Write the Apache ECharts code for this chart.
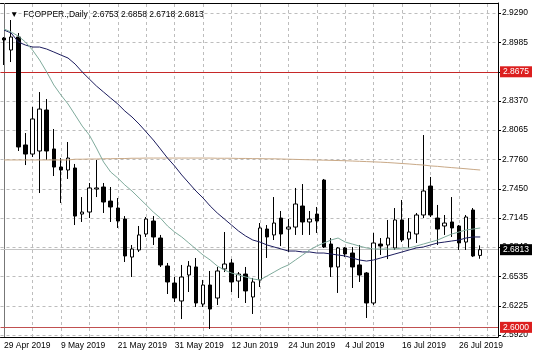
<!DOCTYPE html>
<html><head><meta charset="utf-8">
<script src="https://cdn.jsdelivr.net/npm/echarts@6/dist/echarts.min.js"></script>
<style>html,body{margin:0;padding:0;background:#fff}#c{width:536px;height:358px}</style>
</head><body><div id="c"></div>
<script>
const symbolName = 'FCOPPER.,Daily';
const dates = ['29 Apr 2019','30 Apr 2019','1 May 2019','2 May 2019','3 May 2019','6 May 2019','7 May 2019','8 May 2019','9 May 2019','10 May 2019',
'13 May 2019','14 May 2019','15 May 2019','16 May 2019','17 May 2019','20 May 2019','21 May 2019','22 May 2019','23 May 2019','24 May 2019',
'27 May 2019','28 May 2019','29 May 2019','30 May 2019','31 May 2019','3 Jun 2019','4 Jun 2019','5 Jun 2019','6 Jun 2019','7 Jun 2019',
'10 Jun 2019','11 Jun 2019','12 Jun 2019','13 Jun 2019','14 Jun 2019','17 Jun 2019','18 Jun 2019','19 Jun 2019','20 Jun 2019','21 Jun 2019',
'24 Jun 2019','25 Jun 2019','26 Jun 2019','27 Jun 2019','28 Jun 2019','1 Jul 2019','2 Jul 2019','3 Jul 2019','4 Jul 2019','5 Jul 2019',
'8 Jul 2019','9 Jul 2019','10 Jul 2019','11 Jul 2019','12 Jul 2019','15 Jul 2019','16 Jul 2019','17 Jul 2019','18 Jul 2019','19 Jul 2019',
'22 Jul 2019','23 Jul 2019','24 Jul 2019','25 Jul 2019','26 Jul 2019','29 Jul 2019','30 Jul 2019','31 Jul 2019'];
const padDates = ['1 Aug 2019','2 Aug 2019'];
// [open, close, low, high]
const candles = [
[2.9028,2.9008,2.8746,2.9039],[2.8903,2.9039,2.8777,2.9217],[2.9039,2.7888,2.7846,2.9081],[2.7909,2.7814,2.7699,2.8034],
[2.7814,2.8181,2.7783,2.8306],[2.7846,2.8285,2.7406,2.8463],[2.8275,2.7846,2.7752,2.8390],[2.7867,2.7678,2.7584,2.8076],
[2.7678,2.7647,2.7302,2.7772],[2.7647,2.7772,2.7553,2.7940],[2.7668,2.7165,2.7071,2.7710],[2.7186,2.7207,2.7103,2.7364],
[2.7207,2.7459,2.7144,2.7511],[2.7448,2.7459,2.7364,2.7752],[2.7469,2.7312,2.7197,2.7511],[2.7322,2.7260,2.7103,2.7469],
[2.7249,2.7113,2.7040,2.7354],[2.7134,2.6747,2.6684,2.7165],[2.6736,2.6820,2.6527,2.6862],[2.6810,2.6967,2.6789,2.7061],
[2.6977,2.7134,2.6946,2.7155],[2.7113,2.6946,2.6862,2.7165],[2.6935,2.6653,2.6632,2.6967],[2.6642,2.6475,2.6349,2.6674],
[2.6464,2.6307,2.6265,2.6527],[2.6276,2.6527,2.6087,2.6653],[2.6548,2.6642,2.6370,2.6694],[2.6632,2.6255,2.6213,2.6726],
[2.6244,2.6443,2.6213,2.6496],[2.6443,2.6192,2.5983,2.6590],[2.6307,2.6590,2.6234,2.6632],[2.6611,2.6663,2.6579,2.6998],
[2.6674,2.6475,2.6370,2.6715],[2.6485,2.6558,2.6307,2.6579],[2.6558,2.6381,2.6255,2.6632],[2.6318,2.6475,2.6140,2.6517],
[2.6496,2.7040,2.6422,2.7092],[2.7029,2.6946,2.6726,2.7071],[2.6967,2.7092,2.6914,2.7364],[2.7144,2.6977,2.6851,2.7218],
[2.7029,2.7050,2.6789,2.7134],[2.7050,2.7291,2.6967,2.7459],[2.7270,2.7103,2.6967,2.7500],[2.7103,2.7134,2.6967,2.7218],
[2.7186,2.7113,2.6988,2.7260],[2.7542,2.6841,2.6831,2.7553],[2.6872,2.6632,2.6527,2.6935],[2.6632,2.6831,2.6360,2.6841],
[2.6831,2.6768,2.6736,2.6841],[2.6778,2.6632,2.6412,2.6841],[2.6653,2.6548,2.6475,2.6862],[2.6569,2.6255,2.6098,2.6579],
[2.6255,2.6883,2.6234,2.6988],[2.6872,2.6851,2.6757,2.6935],[2.6862,2.6935,2.6715,2.7124],[2.6831,2.7124,2.6810,2.7249],
[2.7124,2.6914,2.6893,2.7333],[2.6925,2.6998,2.6831,2.7144],[2.6977,2.7176,2.6883,2.7197],[2.7176,2.7427,2.7144,2.8013],
[2.7479,2.7176,2.7155,2.7574],[2.7144,2.7029,2.6862,2.7281],[2.7061,2.7092,2.6967,2.7176],[2.7103,2.7040,2.6946,2.7364],
[2.7061,2.6883,2.6810,2.7071],[2.6893,2.7155,2.6810,2.7176],[2.7228,2.6747,2.6736,2.7249],[2.6753,2.6813,2.6718,2.6858]];
const maFast = [2.9123,2.9091,2.9049,2.8987,2.8903,2.8798,2.8673,2.8537,2.8432,2.8338,
2.8223,2.8107,2.8013,2.7877,2.7731,2.7626,2.7563,2.7490,2.7427,2.7354,
2.7281,2.7207,2.7144,2.7061,2.6998,2.6946,2.6883,2.6820,2.6757,2.6705,
2.6642,2.6600,2.6569,2.6548,2.6527,2.6506,2.6496,2.6537,2.6579,2.6621,
2.6653,2.6705,2.6757,2.6810,2.6851,2.6883,2.6914,2.6935,2.6893,2.6872,
2.6851,2.6831,2.6820,2.6820,2.6820,2.6820,2.6831,2.6831,2.6851,2.6872,
2.6893,2.6914,2.6946,2.6977,2.6998,2.7019,2.7029,2.7040];
const maSlow = [2.9112,2.9081,2.8987,2.8955,2.8934,2.8934,2.8913,2.8882,2.8850,2.8819,
2.8756,2.8673,2.8599,2.8526,2.8463,2.8400,2.8338,2.8264,2.8202,2.8128,
2.8045,2.7961,2.7867,2.7772,2.7689,2.7595,2.7511,2.7427,2.7354,2.7270,
2.7197,2.7134,2.7071,2.7008,2.6956,2.6914,2.6893,2.6862,2.6841,2.6820,
2.6799,2.6799,2.6789,2.6789,2.6778,2.6778,2.6768,2.6757,2.6747,2.6726,
2.6705,2.6694,2.6705,2.6726,2.6747,2.6768,2.6789,2.6810,2.6831,2.6841,
2.6862,2.6883,2.6893,2.6904,2.6914,2.6935,2.6946,2.6946];
const maLong = [2.7752,2.7752,2.7752,2.7752,2.7752,2.7752,2.7752,2.7752,2.7752,2.7752,
2.7760,2.7760,2.7762,2.7762,2.7765,2.7765,2.7767,2.7767,2.7770,2.7770,
2.7772,2.7772,2.7772,2.7772,2.7772,2.7772,2.7772,2.7772,2.7772,2.7772,
2.7770,2.7770,2.7770,2.7768,2.7768,2.7766,2.7766,2.7764,2.7764,2.7762,
2.7760,2.7758,2.7756,2.7754,2.7752,2.7750,2.7748,2.7746,2.7744,2.7741,
2.7738,2.7735,2.7732,2.7729,2.7725,2.7720,2.7715,2.7710,2.7704,2.7699,
2.7690,2.7685,2.7678,2.7672,2.7666,2.7660,2.7653,2.7647];
const yTicks = [2.9290,2.8985,2.8675,2.8370,2.8065,2.7760,2.7450,2.7145,2.6840,2.6535,2.6225,2.5920];
const levelLines = [2.8675,2.6000];

const categories = dates.concat(padDates);
const last = candles[candles.length - 1];
const header = symbolName + '  ' + [last[0], last[3], last[2], last[1]].map(v => v.toFixed(4)).join(' ');
const FONT = '"Liberation Sans", Arial, sans-serif';
const FS = 8.5;

const gridLines = yTicks.map(v => ({yAxis: v}))
  .concat(categories.filter((d, i) => i % 4 === 0).map((d, i) => i === 0
    ? {xAxis: d, lineStyle: {type: 'solid', color: '#777'}}
    : {xAxis: d}));

function levelSeries(value, lineColor, boxColor) {
  return {
    type: 'line', data: [], silent: true, z: 5,
    markLine: {
      silent: true, symbol: ['none', 'none'], animation: false, precision: 4, z: 5,
      lineStyle: {color: lineColor, width: 1, type: 'solid'},
      label: {show: true, position: 'end', distance: 2, formatter: '{b}',
        color: '#fff', backgroundColor: boxColor, fontSize: FS, fontFamily: FONT,
        padding: [1, 3, 0, 3], lineHeight: 10},
      data: [{yAxis: value, name: value.toFixed(4)}]
    }
  };
}

const chart = echarts.init(document.getElementById('c'), null, {renderer: 'canvas'});
chart.setOption({
  animation: false,
  backgroundColor: '#fff',
  title: {
    text: '▼  ' + header, left: 5, top: 5,
    textStyle: {fontSize: FS, fontWeight: 'normal', color: '#000', fontFamily: FONT}
  },
  grid: {left: 0.5, right: 38, top: 3, bottom: 21},
  xAxis: [{
    type: 'category', data: categories, boundaryGap: true,
    axisLine: {lineStyle: {color: '#000'}},
    axisTick: {alignWithLabel: true, interval: 7, length: 4, lineStyle: {color: '#000'}},
    axisLabel: {interval: 7, align: 'left', color: '#000', fontSize: FS, fontFamily: FONT, margin: 4},
    splitLine: {show: false}
  }, {
    type: 'category', data: categories, position: 'top', boundaryGap: true,
    axisLine: {lineStyle: {color: '#000'}}, axisTick: {show: false}, axisLabel: {show: false}
  }],
  yAxis: {
    type: 'value', position: 'right', min: 2.5899, max: 2.9395,
    axisLine: {show: true, lineStyle: {color: '#000'}},
    axisTick: {show: true, length: 3, customValues: yTicks, lineStyle: {color: '#000'}},
    axisLabel: {customValues: yTicks, formatter: v => Number(v).toFixed(4), color: '#000', fontSize: FS, fontFamily: FONT, margin: 4},
    splitLine: {show: false}
  },
  series: [{
    name: 'grid', type: 'line', data: [], silent: true, z: 1,
    markLine: {
      z: 1, silent: true, symbol: ['none', 'none'], animation: false, precision: 4,
      label: {show: false},
      lineStyle: {color: '#bdbdbd', width: 1, type: [3, 3]},
      data: gridLines
    }
  },
  levelSeries(levelLines[0], '#c62828', '#dc1e1e'),
  levelSeries(levelLines[1], '#c05050', '#dc1e1e'),
  levelSeries(last[1], '#c4c4c4', '#000'),
  {
    name: 'price', type: 'candlestick', data: candles, barWidth: 4, clip: false, z: 6,
    itemStyle: {color: '#fff', color0: '#000', borderColor: '#000', borderColor0: '#000', borderWidth: 1}
  }, {
    name: 'MA long', type: 'line', data: maLong, symbol: 'none', z: 7,
    lineStyle: {color: '#c9a987', width: 1}
  }, {
    name: 'MA slow', type: 'line', data: maSlow, symbol: 'none', z: 7,
    lineStyle: {color: '#1c1c5e', width: 1}
  }, {
    name: 'MA fast', type: 'line', data: maFast, symbol: 'none', z: 7,
    lineStyle: {color: '#7fab9c', width: 1}
  }]
});
</script></body></html>
